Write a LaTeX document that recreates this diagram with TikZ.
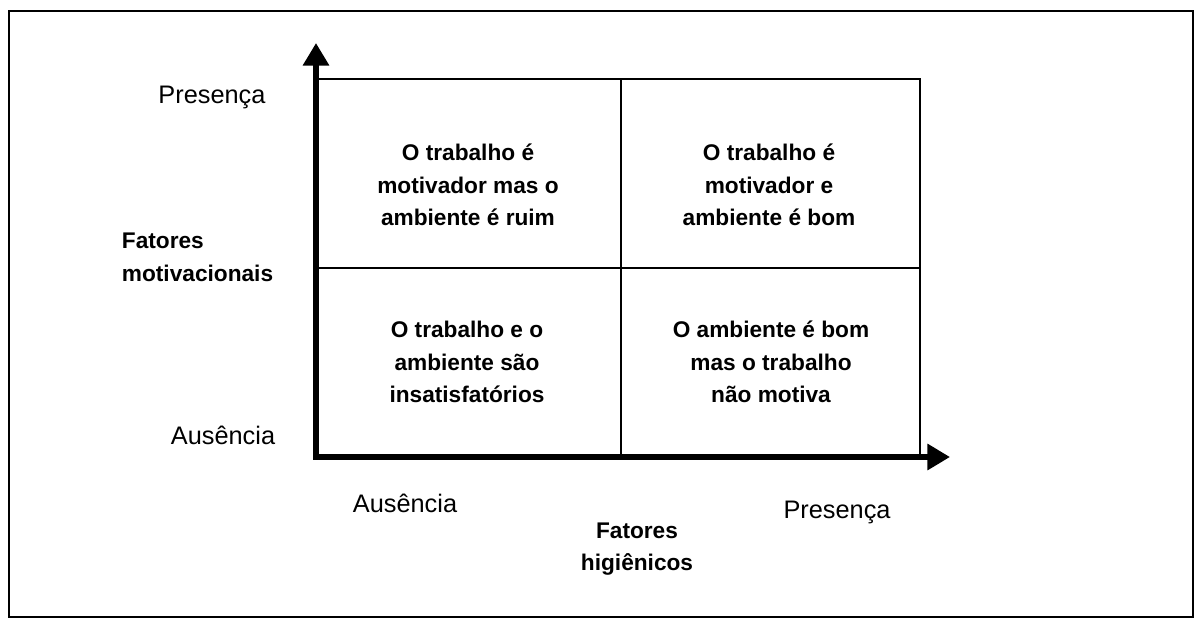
\documentclass[tikz,border=0pt]{standalone}
\usepackage{fontspec}
\setmainfont{Liberation Sans}
\usetikzlibrary{arrows.meta}
\tikzset{every picture/.style={line width=0.75pt}}
\tikzset{
  lbl/.style={font=\fontsize{19}{23}\selectfont},
  quadtxt/.style={font=\bfseries\fontsize{17}{24.5}\selectfont, align=center},
  axisline/.style={line width=4pt, -{Triangle[length=17pt,width=19pt]}},
  gridline/.style={line width=1.1pt}
}

\begin{document}
\begin{tikzpicture}[x=0.75pt,y=0.75pt,yscale=-1,xscale=1]
\useasboundingbox (0,0) rectangle (1198,624);

%Shape: Rectangle [frame]
\draw [line width=1.1pt] (9,11) rectangle (1193,617);

\coordinate (orig) at (316,457);
\coordinate (ytip) at (316,43);
\coordinate (xtip) at (950,457);

%Shape: Grid lines
\draw [gridline] (316,79) -- (920,79) -- (920,457);
\draw [gridline] (621,79) -- (621,457);
\draw [gridline] (316,268) -- (920,268);

%Shape: Axis 2D
\draw [axisline, shorten <=-2pt] (orig) -- (ytip);
\draw [axisline, shorten <=-2pt] (orig) -- (xtip);

% Text Node
\node [lbl] (presM) at (212,97) {Presença};
% Text Node
\node [lbl] (ausM) at (223,435) {Ausência};
% Text Node
\node [quadtxt, align=left, anchor=west] (fatM) at (117,257) {Fatores\\motivacionais};
% Text Node
\node [lbl] (ausH) at (405,503) {Ausência};
% Text Node
\node [lbl] (presH) at (837,512) {Presença};
% Text Node
\node [quadtxt] (fatH) at (637,549) {Fatores\\higiênicos};

% Text Node
\node [quadtxt] (q11) at (468,185) {O trabalho é\\motivador mas o\\ambiente é ruim};
% Text Node
\node [quadtxt] (q12) at (769,185) {O trabalho é\\motivador e\\ambiente é bom};
% Text Node
\node [quadtxt] (q21) at (467,362) {O trabalho e o\\ambiente são\\insatisfatórios};
% Text Node
\node [quadtxt] (q22) at (771,362) {O ambiente é bom\\mas o trabalho\\não motiva};

\end{tikzpicture}
\end{document}
